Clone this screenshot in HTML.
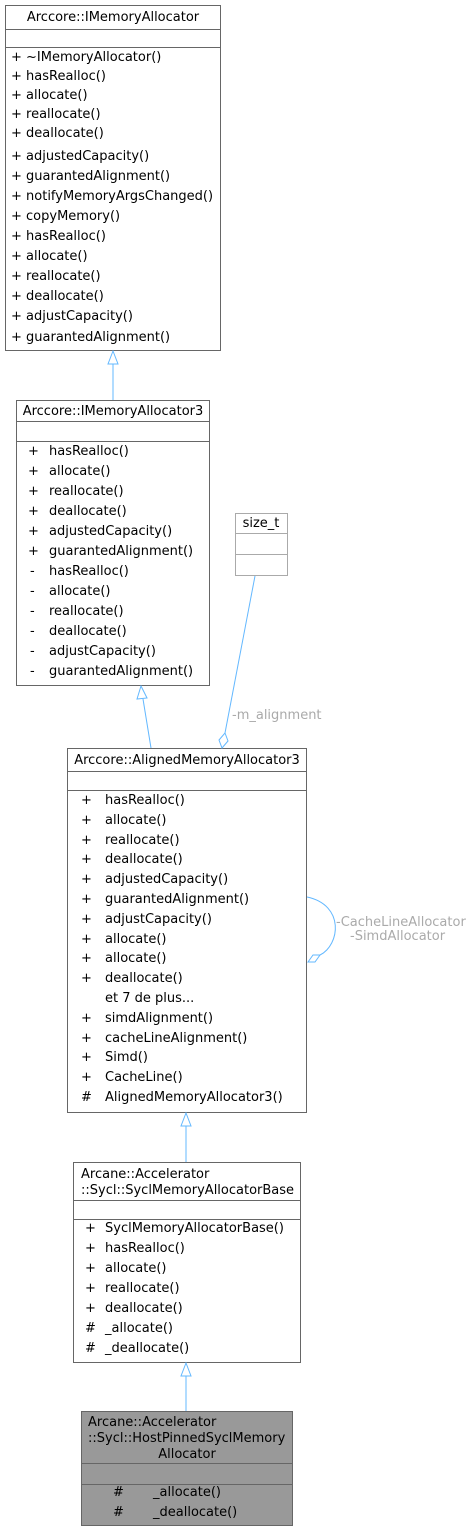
<!DOCTYPE html>
<html><head><meta charset="utf-8"><style>
html,body{margin:0;padding:0;background:#fff;width:471px;height:1532px;overflow:hidden}
svg{display:block}
text{font-family:"DejaVu Sans","Liberation Sans",sans-serif;font-size:13px;fill:#000}
.g{fill:#aaa}
</style></head><body>
<svg width="471" height="1532" viewBox="0 0 471 1532" xmlns="http://www.w3.org/2000/svg">
<g fill="#fff" stroke="#666" stroke-width="1">
<rect x="5.5" y="5.5" width="215" height="345"/>
<line x1="5" y1="29.5" x2="221" y2="29.5"/><line x1="5" y1="47.5" x2="221" y2="47.5"/>
<rect x="16.5" y="400.5" width="193" height="285"/>
<line x1="16" y1="421.5" x2="210" y2="421.5"/><line x1="16" y1="441.5" x2="210" y2="441.5"/>
<rect x="235.5" y="513.5" width="52" height="62" stroke="#aaa"/>
<line x1="235" y1="533.5" x2="288" y2="533.5" stroke="#aaa"/><line x1="235" y1="554.5" x2="288" y2="554.5" stroke="#aaa"/>
<rect x="67.5" y="748.5" width="239" height="364"/>
<line x1="67" y1="771.5" x2="307" y2="771.5"/><line x1="67" y1="790.5" x2="307" y2="790.5"/>
<rect x="73.5" y="1162.5" width="227" height="200"/>
<line x1="73" y1="1200.5" x2="301" y2="1200.5"/><line x1="73" y1="1219.5" x2="301" y2="1219.5"/>
<rect x="81.5" y="1411.5" width="211" height="114" fill="#999"/>
<line x1="81" y1="1463.5" x2="293" y2="1463.5"/><line x1="81" y1="1484.5" x2="293" y2="1484.5"/>
</g>
<g stroke="#63b8ff" stroke-width="1" fill="#fff">
<line x1="113" y1="364" x2="113" y2="400"/><polygon points="113,351 108,364 118,364"/>
<line x1="151" y1="748" x2="143" y2="699"/><polygon points="141,686 137,699 147,698"/>
<line x1="186" y1="1126" x2="186" y2="1162"/><polygon points="186,1113 181,1126 191,1126"/>
<line x1="186" y1="1376" x2="186" y2="1411"/><polygon points="186,1363 181,1376 191,1376"/>
<line x1="255" y1="576" x2="225" y2="733"/><polygon points="225,733 228,741 222,748 219,740"/>
<path d="M307,897 C345,905 340,945 320,955" fill="none"/>
<polygon points="308,962 313,955 320,955 315,962"/>
</g>
<text x="113" y="21" text-anchor="middle">Arccore::IMemoryAllocator</text>
<g>
<text x="11" y="61">+  ~IMemoryAllocator()</text>
<text x="11" y="80">+  hasRealloc()</text>
<text x="11" y="99">+  allocate()</text>
<text x="11" y="118">+  reallocate()</text>
<text x="11" y="137">+  deallocate()</text>
<text x="11" y="160">+  adjustedCapacity()</text>
<text x="11" y="180">+  guarantedAlignment()</text>
<text x="11" y="200">+  notifyMemoryArgsChanged()</text>
<text x="11" y="220">+  copyMemory()</text>
<text x="11" y="240">+  hasRealloc()</text>
<text x="11" y="260">+  allocate()</text>
<text x="11" y="280">+  reallocate()</text>
<text x="11" y="300">+  deallocate()</text>
<text x="11" y="320">+  adjustCapacity()</text>
<text x="11" y="341">+  guarantedAlignment()</text>
</g>
<text x="113" y="415" text-anchor="middle">Arccore::IMemoryAllocator3</text>
<g>
<text x="28" y="455">+</text><text x="49" y="455">hasRealloc()</text>
<text x="28" y="475">+</text><text x="49" y="475">allocate()</text>
<text x="28" y="495">+</text><text x="49" y="495">reallocate()</text>
<text x="28" y="515">+</text><text x="49" y="515">deallocate()</text>
<text x="28" y="535">+</text><text x="49" y="535">adjustedCapacity()</text>
<text x="28" y="555">+</text><text x="49" y="555">guarantedAlignment()</text>
<text x="30" y="575">-</text><text x="49" y="575">hasRealloc()</text>
<text x="30" y="595">-</text><text x="49" y="595">allocate()</text>
<text x="30" y="615">-</text><text x="49" y="615">reallocate()</text>
<text x="30" y="635">-</text><text x="49" y="635">deallocate()</text>
<text x="30" y="655">-</text><text x="49" y="655">adjustCapacity()</text>
<text x="30" y="675">-</text><text x="49" y="675">guarantedAlignment()</text>
</g>
<text x="261" y="527" text-anchor="middle">size_t</text>
<text class="g" x="232" y="719">-m_alignment</text>
<text class="g" x="336" y="926">-CacheLineAllocator</text>
<text class="g" x="350" y="940">-SimdAllocator</text>
<text x="187" y="764" text-anchor="middle">Arccore::AlignedMemoryAllocator3</text>
<g>
<text x="81" y="804">+</text><text x="105" y="804">hasRealloc()</text>
<text x="81" y="824">+</text><text x="105" y="824">allocate()</text>
<text x="81" y="844">+</text><text x="105" y="844">reallocate()</text>
<text x="81" y="863">+</text><text x="105" y="863">deallocate()</text>
<text x="81" y="883">+</text><text x="105" y="883">adjustedCapacity()</text>
<text x="81" y="903">+</text><text x="105" y="903">guarantedAlignment()</text>
<text x="81" y="923">+</text><text x="105" y="923">adjustCapacity()</text>
<text x="81" y="943">+</text><text x="105" y="943">allocate()</text>
<text x="81" y="962">+</text><text x="105" y="962">allocate()</text>
<text x="81" y="982">+</text><text x="105" y="982">deallocate()</text>
<text x="105" y="1002">et 7 de plus...</text>
<text x="81" y="1022">+</text><text x="105" y="1022">simdAlignment()</text>
<text x="81" y="1042">+</text><text x="105" y="1042">cacheLineAlignment()</text>
<text x="81" y="1061">+</text><text x="105" y="1061">Simd()</text>
<text x="81" y="1081">+</text><text x="105" y="1081">CacheLine()</text>
<text x="81" y="1101">#</text><text x="105" y="1101">AlignedMemoryAllocator3()</text>
</g>
<text x="81" y="1178">Arcane::Accelerator</text>
<text x="81" y="1194">::Sycl::SyclMemoryAllocatorBase</text>
<g>
<text x="85" y="1232">+</text><text x="105" y="1232">SyclMemoryAllocatorBase()</text>
<text x="85" y="1252">+</text><text x="105" y="1252">hasRealloc()</text>
<text x="85" y="1272">+</text><text x="105" y="1272">allocate()</text>
<text x="85" y="1292">+</text><text x="105" y="1292">reallocate()</text>
<text x="85" y="1312">+</text><text x="105" y="1312">deallocate()</text>
<text x="85" y="1332">#</text><text x="105" y="1332">_allocate()</text>
<text x="85" y="1352">#</text><text x="105" y="1352">_deallocate()</text>
</g>
<text x="88" y="1426">Arcane::Accelerator</text>
<text x="88" y="1442">::Sycl::HostPinnedSyclMemory</text>
<text x="187" y="1458" text-anchor="middle">Allocator</text>
<text x="113" y="1496">#</text><text x="153" y="1496">_allocate()</text>
<text x="113" y="1516">#</text><text x="153" y="1516">_deallocate()</text>
</svg>
</body></html>
